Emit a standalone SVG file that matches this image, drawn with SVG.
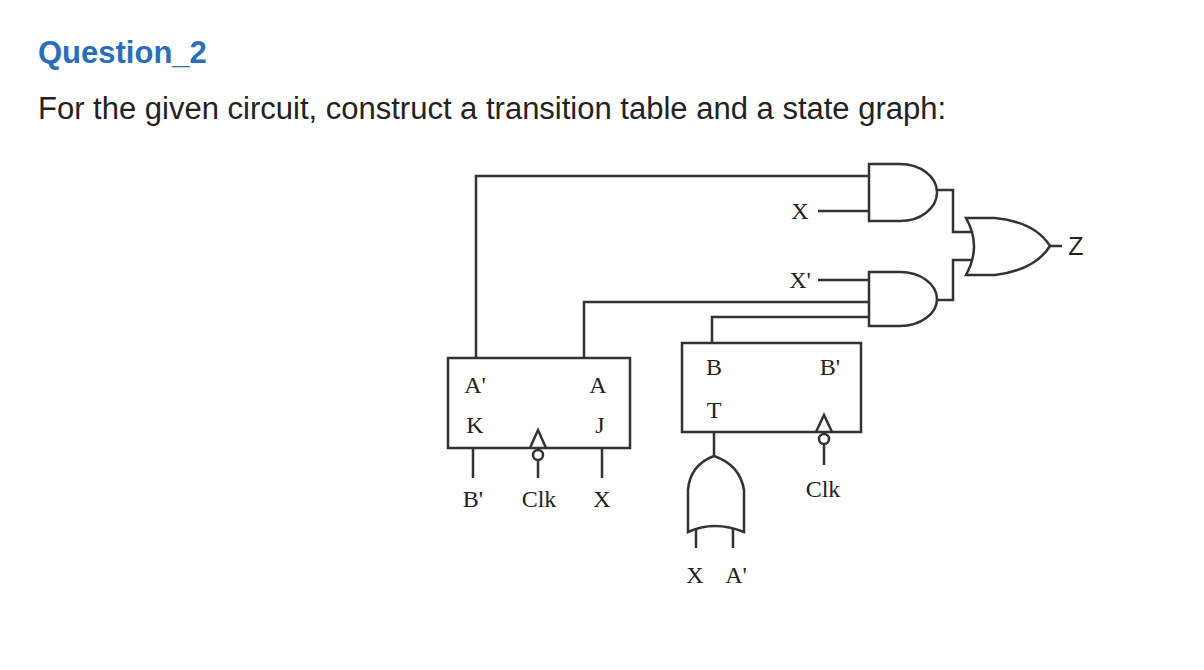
<svg xmlns="http://www.w3.org/2000/svg" width="1204" height="670" viewBox="0 0 1204 670">
<style>
.w{fill:none;stroke:#333;stroke-width:2.5}
.g{fill:#fff;stroke:#333;stroke-width:2.5}
.t{font-family:"Liberation Serif",serif;font-size:24px;fill:#222;text-anchor:middle}
.h{font-family:"Liberation Sans",Arial,sans-serif}
</style>
<rect width="1204" height="670" fill="#fff"/>
<text class="h" x="38" y="63" font-size="31" font-weight="bold" fill="#2a6ebb">Question_2</text>
<text class="h" x="38" y="119" font-size="31" fill="#222">For the given circuit, construct a transition table and a state graph:</text>
<g id="connectors">
<path class="w" d="M476,358 V176 H869"/>
<path class="w" d="M818,211 H869"/>
<path class="w" d="M818,280 H869"/>
<path class="w" d="M584,358 V302 H869"/>
<path class="w" d="M712,343 V317 H869"/>
<path class="w" d="M937,190 H953 V232 H976"/>
<path class="w" d="M937,300 H953 V260 H976"/>
<path class="w" d="M1050,246 H1062"/>
<path class="w" d="M473,448 V478 M602,448 V478 M538,461 V478"/>
<path class="w" d="M714,432 V456 M824,445 V465 M696,525 V548 M733,525 V548"/>
</g>
<g id="and1"><path class="g" d="M869,164 H900 A37,28.5 0 0 1 900,221 H869 Z"/></g>
<g id="and2"><path class="g" d="M869,272 H900 A37,27 0 0 1 900,326 H869 Z"/></g>
<g id="or1"><path class="g" d="M966,218 H995 Q1035,222 1050,246 Q1035,270 995,275 H966 Q982,246 966,218 Z"/></g>
<g id="or2"><path class="g" d="M714,456 Q740,465 744,490 V532 Q714,520 688,532 V490 Q690,465 714,456 Z"/></g>
<g id="jk">
<rect class="g" x="448" y="358" width="182" height="90"/>
<path class="w" d="M530,448 L538,430 L546,448"/>
<circle class="g" cx="538" cy="455" r="5"/>
<text class="t" x="475" y="393">A'</text><text class="t" x="598" y="393">A</text>
<text class="t" x="475" y="433">K</text><text class="t" x="600" y="433">J</text>
<text class="t" x="473" y="507">B'</text><text class="t" x="539" y="507">Clk</text><text class="t" x="602" y="507">X</text>
</g>
<g id="t">
<rect class="g" x="682" y="343" width="179" height="89"/>
<path class="w" d="M816,432 L824,415 L832,432"/>
<circle class="g" cx="824" cy="439" r="5"/>
<text class="t" x="714" y="375">B</text><text class="t" x="830" y="375">B'</text>
<text class="t" x="714" y="418">T</text>
<text class="t" x="823" y="497">Clk</text>
<text class="t" x="695" y="583">X</text><text class="t" x="736" y="583">A'</text>
</g>
<text class="t" x="800" y="219">X</text>
<text class="t" x="800" y="288">X'</text>
<text class="h" x="1076" y="255" font-size="25" fill="#222" text-anchor="middle">Z</text>
</svg>
